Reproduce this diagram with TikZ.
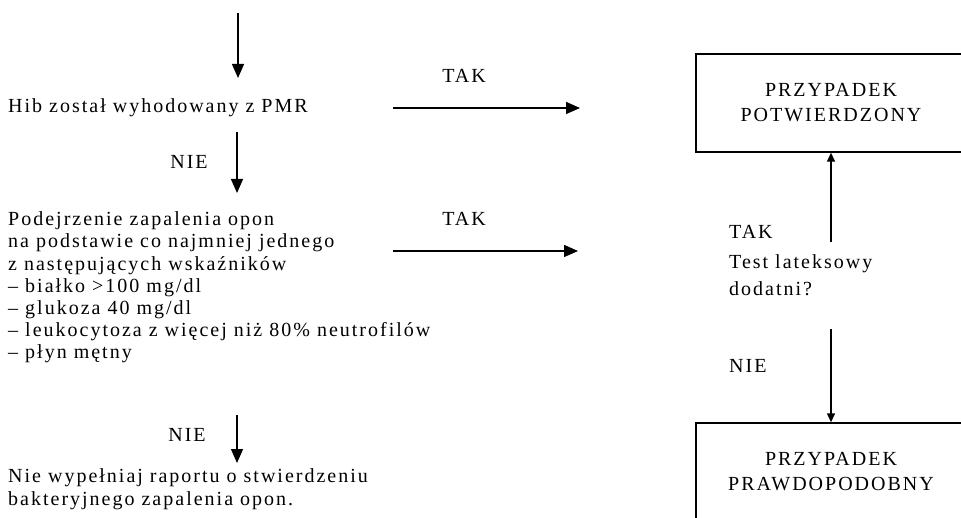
\documentclass[tikz,border=0pt]{standalone}
\usepackage{fontspec}
\setmainfont{Liberation Serif}[LetterSpace=10]
\usetikzlibrary{arrows.meta}

\tikzset{
    tekst/.style={inner sep=0pt, align=left, font=\fontsize{20}{22.2}\selectfont},
    skrzynka/.style={draw, line width=1.4pt, minimum width=270pt, minimum height=98pt,
        inner sep=0pt, align=center, font=\fontsize{20}{25}\selectfont},
    strz/.style={line width=1.4pt, -{Triangle[length=14pt, width=12pt]}},
    strzmala/.style={line width=1.4pt, -{Triangle[length=9pt, width=8pt]}}
}

\begin{document}
\begin{tikzpicture}[x=1pt, y=-1pt]
        \useasboundingbox (0,0) rectangle (961,518);

        \node[tekst, anchor=base west] (hib) at (8,113) {Hib został wyhodowany z PMR};
        \node[tekst, anchor=base west] (podejrz) at (8,359)
            {Podejrzenie zapalenia opon\\
             na podstawie co najmniej jednego\\
             z następujących wskaźników\\
             – białko >100 mg/dl\\
             – glukoza 40 mg/dl\\
             – leukocytoza z więcej niż 80\% neutrofilów\\
             – płyn mętny};
        \node[tekst, anchor=base west] (raport) at (8,505)
            {Nie wypełniaj raportu o stwierdzeniu\\
             bakteryjnego zapalenia opon.};

        \node[tekst, anchor=base] (tak1) at (464,83) {TAK};
        \node[tekst, anchor=base] (tak2) at (464,226) {TAK};
        \node[tekst, anchor=base] (nie1) at (189,169) {NIE};
        \node[tekst, anchor=base] (nie2) at (187,441) {NIE};

        \node[skrzynka] (potw) at (831,103) {PRZYPADEK\\POTWIERDZONY};
        \node[skrzynka] (prawd) at (831,472) {PRZYPADEK\\PRAWDOPODOBNY};

        \node[tekst, anchor=base west] (tak3) at (729,239) {TAK};
        \node[tekst, anchor=base west, font=\fontsize{20}{27}\selectfont] (test) at (729,296)
            {Test lateksowy\\dodatni?};
        \node[tekst, anchor=base west] (nie3) at (729,373) {NIE};

        \coordinate (g1) at (238,13);
        \coordinate (g2) at (238,78);
        \coordinate (g3) at (237,132);
        \coordinate (g4) at (237,193);
        \coordinate (g5) at (237,415);
        \coordinate (g6) at (237,463);
        \coordinate (h1) at (393,108);
        \coordinate (h2) at (580,108);
        \coordinate (h3) at (393,251);
        \coordinate (h4) at (578,251);
        \coordinate (p1) at (831,242);
        \coordinate (p2) at (831,329);

        \draw[strz] (g1) -- (g2);
        \draw[strz] (g3) -- (g4);
        \draw[strz] (g5) -- (g6);
        \draw[strz] (h1) -- (h2);
        \draw[strz] (h3) -- (h4);
        \draw[strzmala] (p1) -- (potw.south);
        \draw[strzmala] (p2) -- (prawd.north);
    \end{tikzpicture}
\end{document}
